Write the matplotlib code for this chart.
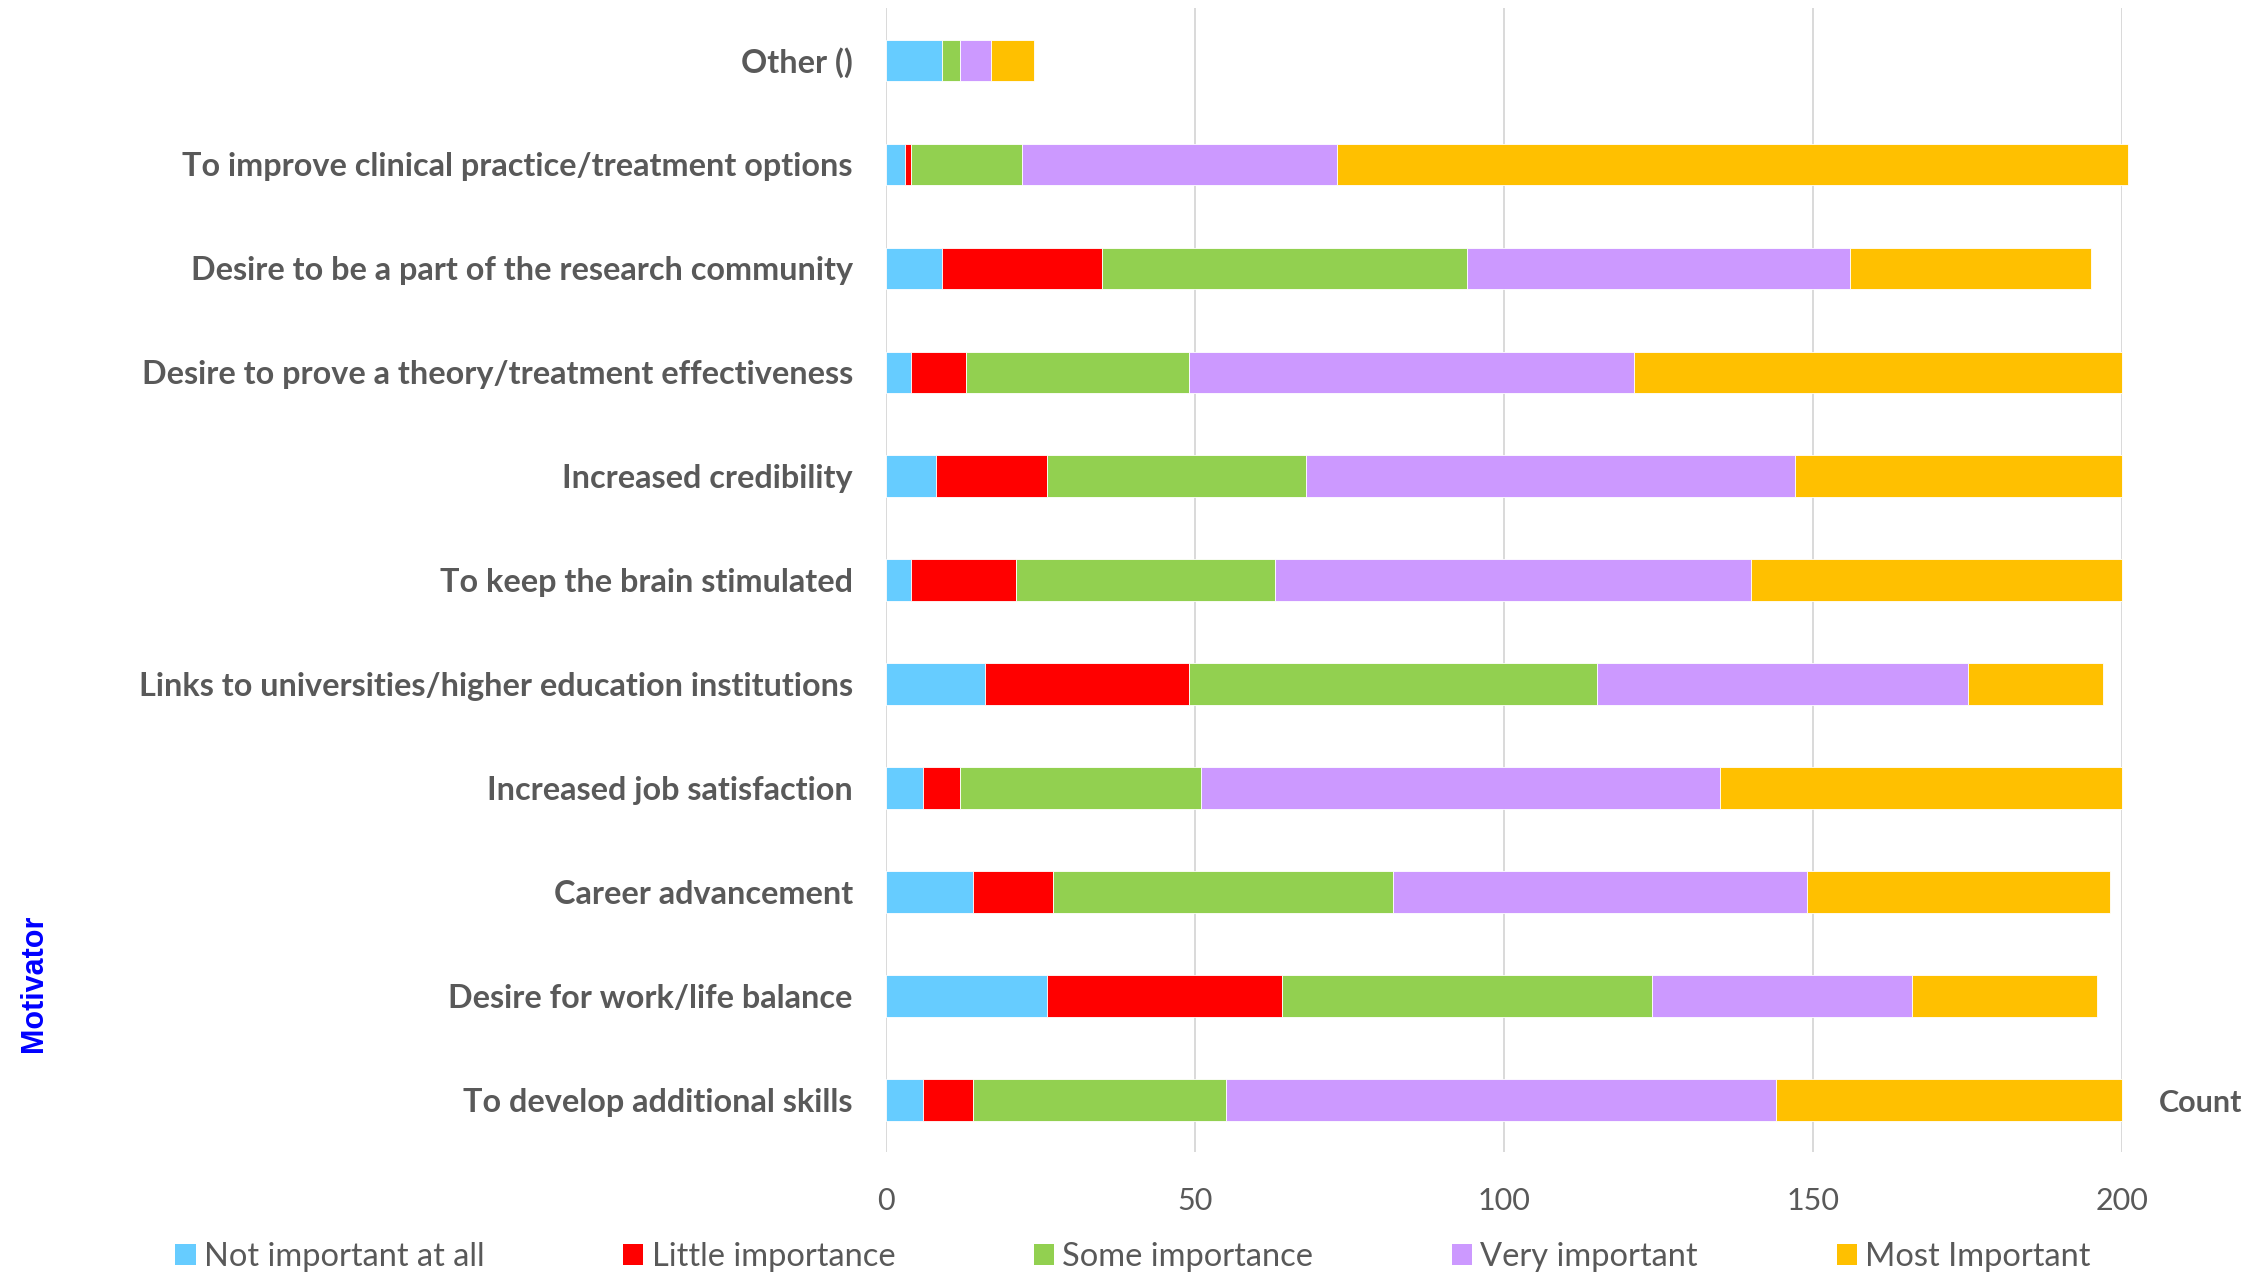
import matplotlib.pyplot as plt
import numpy as np
from matplotlib.patches import Patch


motivators = [
    "Other ()",
    "To improve clinical practice/treatment options",
    "Desire to be a part of the research community",
    "Desire to prove a theory/treatment effectiveness",
    "Increased credibility",
    "To keep the brain stimulated",
    "Links to universities/higher education institutions",
    "Increased job satisfaction",
    "Career advancement",
    "Desire for work/life balance",
    "To develop additional skills",
]

levels = ["Not important at all", "Little importance", "Some importance",
          "Very important", "Most Important"]
colors = ["#66CCFF", "#FF0000", "#92D050", "#CC99FF", "#FFC000"]

not_important = [9, 3, 9, 4, 8, 4, 16, 6, 14, 26, 6]
little = [0, 1, 26, 9, 18, 17, 33, 6, 13, 38, 8]
some = [3, 18, 59, 36, 42, 42, 66, 39, 55, 60, 41]
very = [5, 51, 62, 72, 79, 77, 60, 84, 67, 42, 89]
most = [7, 128, 39, 79, 53, 60, 22, 65, 49, 30, 56]

xticks = [0, 50, 100, 150, 200]

GRAY = "#595959"
FONT = "Lato"

fig = plt.figure(figsize=(22.57, 12.85), dpi=100)
ax = fig.add_axes([0.3926, 0.1035, 0.5476, 0.8899])

y = np.arange(len(motivators))
left = np.zeros(len(motivators))
for name, vals, col in zip(levels, [not_important, little, some, very, most], colors):
    ax.barh(y, vals, left=left, height=0.4, color=col, edgecolor="white",
            linewidth=0.6, label=name, zorder=3, clip_on=False)
    left += np.array(vals)

ax.set_xlim(0, 200)
ax.set_ylim(len(motivators) - 0.5, -0.5)
ax.set_xticks(xticks)
ax.set_xticklabels([str(t) for t in xticks], fontsize=22, color=GRAY, family=FONT)
ax.set_yticks(y)
ax.set_yticklabels(motivators, fontsize=23.3, color=GRAY, family=FONT, fontweight="bold")
ax.tick_params(axis="both", length=0)
ax.tick_params(axis="x", pad=25)
ax.tick_params(axis="y", pad=24)
for s in ax.spines.values():
    s.set_visible(False)
ax.grid(axis="x", color="#D9D9D9", linewidth=1.4, zorder=0)
ax.set_axisbelow(True)

fig.text(0.9566, 1 - 1103 / 1285, "Count", fontsize=22, color=GRAY,
         family=FONT, fontweight="bold", ha="left", va="center")
fig.text(0.015, 1 - 983 / 1285, "Motivator", fontsize=22, color="#0000FF",
         family="Liberation Sans", fontweight="bold", rotation=90,
         ha="center", va="center")

handles = [Patch(facecolor=c, edgecolor="none") for c in colors]
fig.legend(handles, levels, loc="center", bbox_to_anchor=(0.502, 0.022),
           ncol=5, frameon=False, prop={"family": FONT, "size": 23.5},
           labelcolor=GRAY, handlelength=0.62, handleheight=0.62,
           handletextpad=0.25, columnspacing=4.25)

fig.savefig("out.png", dpi=100)
